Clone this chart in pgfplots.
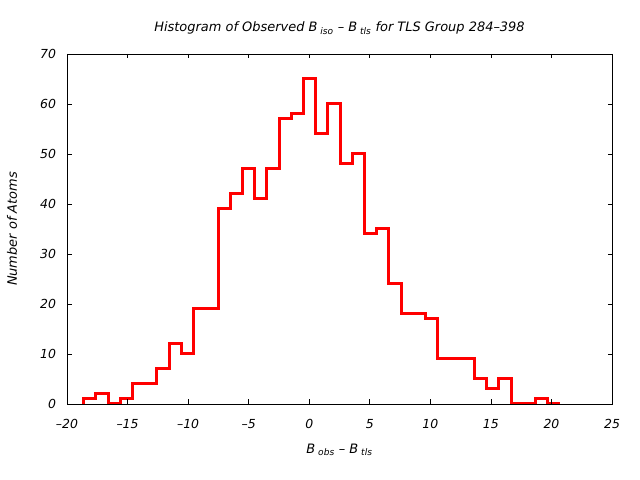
\documentclass[border=0pt]{standalone}
\usepackage{fontspec}
\setmainfont{DejaVu Sans}
\usepackage{pgfplots}
\pgfplotsset{compat=1.18}
\begin{document}
\begin{tikzpicture}[x=1bp,y=1bp]
\useasboundingbox (0,0) rectangle (640,480);
\begin{axis}[
  at={(67bp,76bp)}, anchor=south west,
  scale only axis, width=545bp, height=350bp,
  xmin=-20, xmax=25, ymin=0, ymax=70,
  xtick={-20,-15,...,25}, ytick={0,10,...,70},
  xticklabels={--20,--15,--10,--5,0,5,10,15,20,25},
  tick align=inside, major tick length=4.5bp,
  axis line style={line width=0.8pt},
  tick style={line width=0.8pt, black},
  font=\fontsize{13}{15}\selectfont\itshape,
  /pgf/number format/assume math mode=true,
  ticklabel style={font=\fontsize{12.5}{15}\selectfont\itshape},
  xticklabel style={yshift=-12bp},
  yticklabel style={xshift=-7.5bp},
  title={Histogram of Observed B\textsubscript{ iso} -- B\textsubscript{ tls} for TLS Group 284--398},
  title style={at={(axis description cs:0.5,1.057)}, anchor=center},
  xlabel={B\textsubscript{ obs} -- B\textsubscript{ tls}},
  ylabel={Number of Atoms},
  xlabel style={at={(axis description cs:0.5,-0.131)}, anchor=center},
  ylabel style={at={(axis description cs:-0.101,0.5)}, anchor=center},
  axis on top,
]
\addplot[const plot, red, line width=3bp, line join=miter] coordinates {
(-18.62,0) (-18.62,1) (-17.61,2) (-16.60,0) (-15.60,1) (-14.59,4) (-13.58,4)
(-12.57,7) (-11.56,12) (-10.56,10) (-9.55,19) (-8.54,19) (-7.53,39) (-6.52,42)
(-5.52,47) (-4.51,41) (-3.50,47) (-2.49,57) (-1.48,58) (-0.48,65) (0.53,54)
(1.54,60) (2.55,48) (3.56,50) (4.56,34) (5.57,35) (6.58,24) (7.59,18) (8.60,18)
(9.60,17) (10.61,9) (11.62,9) (12.63,9) (13.64,5) (14.64,3) (15.65,5) (16.66,0)
(17.67,0) (18.68,1) (19.68,0) (20.69,0)
};
\end{axis}
\end{tikzpicture}
\end{document}
